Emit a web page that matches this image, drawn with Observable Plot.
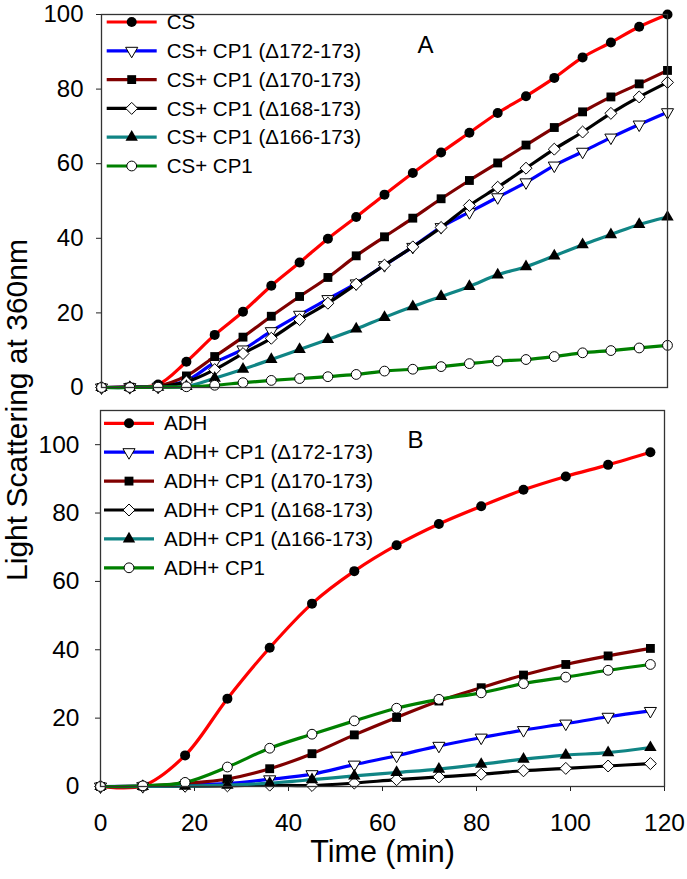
<!DOCTYPE html>
<html>
<head>
<meta charset="utf-8">
<script src="https://cdn.jsdelivr.net/npm/d3@7"></script>
<script src="https://cdn.jsdelivr.net/npm/@observablehq/plot@0.6"></script>
<style>
  body { margin: 0; background: #fff; }
  #fig { position: relative; width: 687px; height: 879px; font-family: "Liberation Sans", Arial, sans-serif; }
  #fig > svg { position: absolute; left: 0; }
</style>
</head>
<body>
<div id="fig"></div>
<script>
// ---------- Data ----------
const timeA = [0, 6, 12, 18, 24, 30, 36, 42, 48, 54, 60, 66, 72, 78, 84, 90, 96, 102, 108, 114, 120];
const namesA = ["CS", "CS+ CP1 (\u0394172-173)", "CS+ CP1 (\u0394170-173)", "CS+ CP1 (\u0394168-173)", "CS+ CP1 (\u0394166-173)", "CS+ CP1"];
const csA      = [0, 0.1, 0.8, 6.9, 14.1, 20.3, 27.3, 33.5, 39.9, 45.7, 51.7, 57.5, 63.0, 68.3, 73.6, 78.1, 83.0, 88.5, 92.5, 96.7, 100];
const d172A    = [0, 0.1, 0.2, 1.8, 6.7, 10.2, 15.1, 19.5, 23.7, 27.9, 32.8, 37.7, 43.0, 47.0, 51.0, 55.0, 59.5, 63.2, 67.0, 70.5, 73.8];
const d170A    = [0, 0.1, 0.4, 3.1, 8.3, 13.5, 19.1, 24.4, 29.5, 35.3, 40.4, 45.4, 50.6, 55.5, 60.2, 65.0, 69.7, 73.9, 77.9, 81.4, 85.0];
const d168A    = [0, 0.1, 0.2, 1.5, 4.8, 9.1, 13.2, 18.2, 22.6, 27.7, 32.8, 37.7, 42.9, 48.8, 53.7, 58.8, 63.9, 68.5, 73.5, 77.9, 81.8];
const d166A    = [0, 0, 0.1, 0.3, 2.5, 4.9, 7.5, 10.2, 12.9, 15.7, 18.8, 21.7, 24.4, 27.1, 30.2, 32.4, 35.3, 38.3, 41.0, 43.7, 45.7];
const cp1A     = [0, 0, 0.1, 0.2, 0.6, 1.3, 1.9, 2.4, 2.9, 3.5, 4.4, 4.9, 5.6, 6.4, 7.1, 7.5, 8.3, 9.3, 9.9, 10.6, 11.3];

const timeB = [0, 9, 18, 27, 36, 45, 54, 63, 72, 81, 90, 99, 108, 117];
const namesB = ["ADH", "ADH+ CP1 (\u0394172-173)", "ADH+ CP1 (\u0394170-173)", "ADH+ CP1 (\u0394168-173)", "ADH+ CP1 (\u0394166-173)", "ADH+ CP1"];
const adhB     = [0, 0.2, 9.1, 25.7, 40.6, 53.5, 63.0, 70.6, 76.8, 82.0, 86.8, 90.7, 94.1, 97.8];
const d172B    = [0, 0.1, 0.4, 0.9, 2.1, 3.6, 6.4, 9.0, 11.9, 14.3, 16.5, 18.4, 20.4, 22.1];
const d170B    = [0, 0.1, 0.9, 2.2, 5.2, 9.6, 15.1, 20.2, 25.0, 28.9, 32.6, 35.7, 38.2, 40.4];
const d168B    = [0, 0, 0.1, 0.2, 0.4, 0.3, 1.0, 2.0, 2.8, 3.6, 4.6, 5.3, 6.0, 6.7];
const d166B    = [0, 0, 0.1, 0.4, 1.0, 2.0, 3.1, 4.1, 5.1, 6.5, 8.0, 9.2, 9.9, 11.4];
const cp1B     = [0, 0.2, 1.2, 5.7, 11.2, 15.3, 19.2, 22.9, 25.5, 27.4, 30.1, 32.0, 34.0, 35.7];

const xTicks = [0, 20, 40, 60, 80, 100, 120];
const yTicks = [0, 20, 40, 60, 80, 100];

// ---------- Styling ----------
const colors = ["#ff0000", "#0000ff", "#800000", "#000000", "#108585", "#008000"];
const marker = [
  {symbol: "circle",   fill: "black", stroke: "none",  rotate: 0,   r: 5.0},
  {symbol: "triangle", fill: "white", stroke: "black", rotate: 180, r: 4.5},
  {symbol: "square",   fill: "black", stroke: "none",  rotate: 0,   r: 5.0},
  {symbol: "diamond2", fill: "white", stroke: "black", rotate: 0,   r: 5.4},
  {symbol: "triangle", fill: "black", stroke: "none",  rotate: 0,   r: 4.6},
  {symbol: "circle",   fill: "white", stroke: "black", rotate: 0,   r: 4.9}
];
const d3sym = {circle: d3.symbolCircle, triangle: d3.symbolTriangle, square: d3.symbolSquare, diamond2: d3.symbolDiamond2};

function seriesMarks(time, seriesList) {
  const marks = [];
  seriesList.forEach((vals, i) => {
    const rows = time.map((t, j) => ({t, v: vals[j]}));
    const m = marker[i];
    marks.push(Plot.line(rows, {x: "t", y: "v", stroke: colors[i], strokeWidth: 3.2, curve: "catmull-rom"}));
    marks.push(Plot.dot(rows, {x: "t", y: "v", symbol: () => m.symbol, r: m.r, fill: m.fill, stroke: m.stroke, strokeWidth: 1, rotate: m.rotate}));
  });
  return marks;
}

function addLegend(svg, names, left, top, step) {
  const g = d3.select(svg).append("g").attr("class", "legend");
  names.forEach((n, i) => {
    const y = top + i * step;
    const m = marker[i];
    g.append("line").attr("x1", left).attr("x2", left + 50).attr("y1", y).attr("y2", y)
      .attr("stroke", colors[i]).attr("stroke-width", 3.2);
    g.append("path").attr("d", d3.symbol(d3sym[m.symbol], Math.PI * m.r * m.r)())
      .attr("transform", `translate(${left + 25},${y}) rotate(${m.rotate})`)
      .attr("fill", m.fill).attr("stroke", m.stroke).attr("stroke-width", 1);
    g.append("text").attr("x", left + 60).attr("y", y).attr("dy", "0.35em")
      .attr("text-anchor", "start")
      .attr("font-size", 20.5).attr("fill", "black").text(n);
  });
}

const fig = document.getElementById("fig");
const fontStyle = {fontFamily: "'Liberation Sans', Arial, sans-serif", fontSize: "24px", color: "black", background: "transparent", overflow: "visible"};

// ---------- Panel A ----------
const plotA = Plot.plot({
  width: 687, height: 400,
  marginLeft: 101, marginRight: 20, marginTop: 14, marginBottom: 13,
  style: fontStyle,
  x: {domain: [0, 120], axis: null},
  y: {domain: [0, 100]},
  marks: [
    Plot.axisY({ticks: yTicks, tickSize: 5, tickPadding: 13, fontSize: 24, label: null, stroke: "#222"}),
    ...seriesMarks(timeA, [csA, d172A, d170A, d168A, d166A, cp1A]),
    Plot.frame({stroke: "#333", strokeWidth: 1.3}),
    Plot.text(["A"], {frameAnchor: "top", dx: 41, dy: 21, fontSize: 24, fill: "black"})
  ]
});
plotA.style.top = "0px";
addLegend(plotA, namesA, 106.7, 22, 28.8);
fig.appendChild(plotA);

// ---------- Panel B ----------
const plotB = Plot.plot({
  width: 687, height: 479,
  marginLeft: 100, marginRight: 23, marginTop: 10, marginBottom: 93,
  style: fontStyle,
  x: {domain: [0, 120]},
  y: {domain: [0, 110]},
  marks: [
    Plot.axisY({ticks: yTicks, tickSize: 5, tickPadding: 16, fontSize: 24.5, label: null, stroke: "#222"}),
    Plot.axisX({ticks: xTicks, tickSize: 5, tickPadding: 22, fontSize: 24.5, label: null, stroke: "#222"}),
    ...seriesMarks(timeB, [adhB, d172B, d170B, d168B, d166B, cp1B]),
    Plot.frame({stroke: "#333", strokeWidth: 1.3}),
    Plot.text(["B"], {frameAnchor: "top", dx: 33, dy: 20.5, fontSize: 24, fill: "black"}),
    Plot.text(["Time (min)"], {frameAnchor: "bottom", dy: 75.5, fontSize: 30.5, fill: "black"})
  ]
});
plotB.style.top = "400px";
addLegend(plotB, namesB, 104, 23.3, 28.9);
fig.appendChild(plotB);

// ---------- Shared y-axis title ----------
const ov = d3.create("svg").attr("width", 40).attr("height", 879)
  .style("position", "absolute").style("top", "0px").style("left", "0px").style("overflow", "visible");
ov.append("text").attr("transform", "translate(27.2,410) rotate(-90)")
  .attr("text-anchor", "middle").attr("font-size", 30).attr("fill", "black")
  .attr("font-family", "'Liberation Sans', Arial, sans-serif")
  .text("Light Scattering at 360nm");
fig.appendChild(ov.node());
</script>
</body>
</html>
